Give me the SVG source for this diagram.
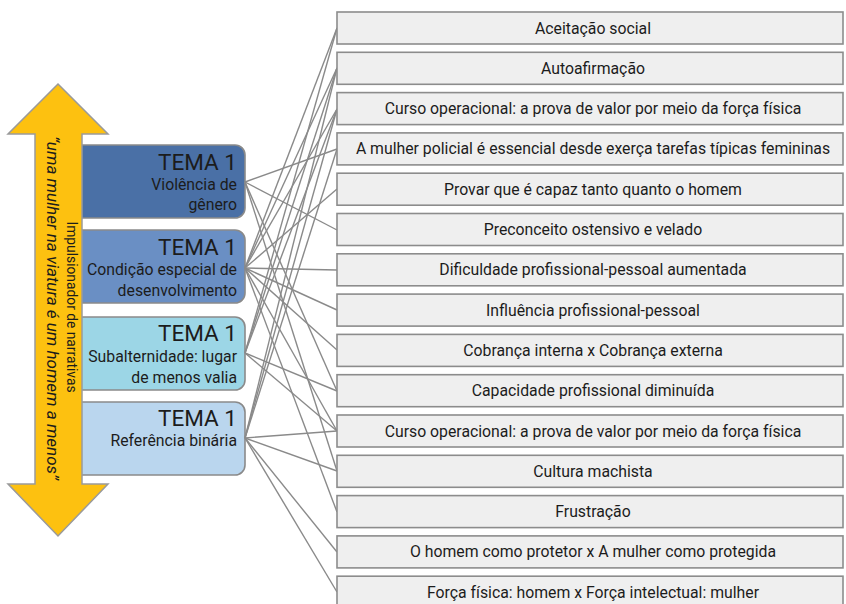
<svg xmlns="http://www.w3.org/2000/svg" width="846" height="604" viewBox="0 0 846 604">
<style>
.tb{stroke:#8a8a8a;stroke-width:1.6}
.tt{font-family:Roboto,"Liberation Sans",sans-serif;fill:#1c1c1c;text-anchor:end}
.big{font-size:22.5px}
.sub{font-size:15.8px}
.rb{fill:#efefef;stroke:#8c8c8c;stroke-width:1.6}
.rt{font-family:Roboto,"Liberation Sans",sans-serif;font-size:15.8px;fill:#1c1c1c;text-anchor:middle}
.cn line{stroke:#8a8a8a;stroke-width:1.4}
.at{font-family:Roboto,"Liberation Sans",sans-serif;fill:#1c1c1c;text-anchor:middle}
</style>
<rect width="846" height="604" fill="#ffffff"/>
<g id="tema1">
<rect class="tb" x="70" y="145" width="175" height="73" rx="10" fill="#4a70a6"/>
<text class="tt big" x="237" y="170">TEMA 1</text>
<text class="tt sub" x="237" y="190">Violência de</text>
<text class="tt sub" x="237" y="210">gênero</text>
</g>
<g id="tema2">
<rect class="tb" x="70" y="230" width="175" height="73" rx="10" fill="#6a8fc4"/>
<text class="tt big" x="237" y="255">TEMA 1</text>
<text class="tt sub" x="237" y="275">Condição especial de</text>
<text class="tt sub" x="237" y="296">desenvolvimento</text>
</g>
<g id="tema3">
<rect class="tb" x="70" y="317" width="175" height="73" rx="10" fill="#9cd6e6"/>
<text class="tt big" x="237" y="341">TEMA 1</text>
<text class="tt sub" x="237" y="362">Subalternidade: lugar</text>
<text class="tt sub" x="237" y="383">de menos valia</text>
</g>
<g id="tema4">
<rect class="tb" x="70" y="402" width="175" height="73" rx="10" fill="#bad6ee"/>
<text class="tt big" x="237" y="426">TEMA 1</text>
<text class="tt sub" x="237" y="446">Referência binária</text>
</g>
<g id="seta">
<polygon points="58,84 108,134 82,134 82,484 108,484 58,536 8,484 35,484 35,134 8,134" fill="#fdc110" stroke="#9a9a9a" stroke-width="1.5"/>
<text class="at" font-size="13.8" transform="translate(67,307) rotate(90)">Impulsionador de narrativas</text>
<text class="at" font-size="17" font-style="italic" transform="translate(47,308) rotate(90)">“uma mulher na viatura é um homem a menos”</text>
</g>
<g class="cn" id="connectors">
<line x1="245" y1="182" x2="337" y2="149"/>
<line x1="245" y1="182" x2="337" y2="230"/>
<line x1="245" y1="182" x2="337" y2="391"/>
<line x1="245" y1="182" x2="337" y2="471"/>
<line x1="245" y1="268" x2="337" y2="28"/>
<line x1="245" y1="268" x2="337" y2="68"/>
<line x1="245" y1="268" x2="337" y2="109"/>
<line x1="245" y1="268" x2="337" y2="189"/>
<line x1="245" y1="268" x2="337" y2="270"/>
<line x1="245" y1="268" x2="337" y2="310"/>
<line x1="245" y1="268" x2="337" y2="350"/>
<line x1="245" y1="268" x2="337" y2="431"/>
<line x1="245" y1="268" x2="337" y2="512"/>
<line x1="245" y1="353" x2="337" y2="28"/>
<line x1="245" y1="353" x2="337" y2="68"/>
<line x1="245" y1="353" x2="337" y2="109"/>
<line x1="245" y1="353" x2="337" y2="391"/>
<line x1="245" y1="353" x2="337" y2="431"/>
<line x1="245" y1="438" x2="337" y2="68"/>
<line x1="245" y1="438" x2="337" y2="109"/>
<line x1="245" y1="438" x2="337" y2="149"/>
<line x1="245" y1="438" x2="337" y2="431"/>
<line x1="245" y1="438" x2="337" y2="471"/>
<line x1="245" y1="438" x2="337" y2="552"/>
<line x1="245" y1="438" x2="337" y2="592"/>
</g>
<g id="c1"><rect class="rb" x="337" y="12" width="506" height="32"/><text class="rt" x="593" y="33.5">Aceitação social</text></g>
<g id="c2"><rect class="rb" x="337" y="52.3" width="506" height="32"/><text class="rt" x="593" y="73.8">Autoafirmação</text></g>
<g id="c3"><rect class="rb" x="337" y="92.6" width="506" height="32"/><text class="rt" x="593" y="114.1">Curso operacional: a prova de valor por meio da força física</text></g>
<g id="c4"><rect class="rb" x="337" y="132.9" width="506" height="32"/><text class="rt" x="593" y="154.4">A mulher policial é essencial desde exerça tarefas típicas femininas</text></g>
<g id="c5"><rect class="rb" x="337" y="173.2" width="506" height="32"/><text class="rt" x="593" y="194.7">Provar que é capaz tanto quanto o homem</text></g>
<g id="c6"><rect class="rb" x="337" y="213.5" width="506" height="32"/><text class="rt" x="593" y="235">Preconceito ostensivo e velado</text></g>
<g id="c7"><rect class="rb" x="337" y="253.8" width="506" height="32"/><text class="rt" x="593" y="275.3">Dificuldade profissional-pessoal aumentada</text></g>
<g id="c8"><rect class="rb" x="337" y="294.1" width="506" height="32"/><text class="rt" x="593" y="315.6">Influência profissional-pessoal</text></g>
<g id="c9"><rect class="rb" x="337" y="334.4" width="506" height="32"/><text class="rt" x="593" y="355.9">Cobrança interna x Cobrança externa</text></g>
<g id="c10"><rect class="rb" x="337" y="374.7" width="506" height="32"/><text class="rt" x="593" y="396.2">Capacidade profissional diminuída</text></g>
<g id="c11"><rect class="rb" x="337" y="415" width="506" height="32"/><text class="rt" x="593" y="436.5">Curso operacional: a prova de valor por meio da força física</text></g>
<g id="c12"><rect class="rb" x="337" y="455.3" width="506" height="32"/><text class="rt" x="593" y="476.8">Cultura machista</text></g>
<g id="c13"><rect class="rb" x="337" y="495.6" width="506" height="32"/><text class="rt" x="593" y="517.1">Frustração</text></g>
<g id="c14"><rect class="rb" x="337" y="535.9" width="506" height="32"/><text class="rt" x="593" y="557.4">O homem como protetor x A mulher como protegida</text></g>
<g id="c15"><rect class="rb" x="337" y="576.2" width="506" height="32"/><text class="rt" x="593" y="597.7">Força física: homem x Força intelectual: mulher</text></g>
</svg>
